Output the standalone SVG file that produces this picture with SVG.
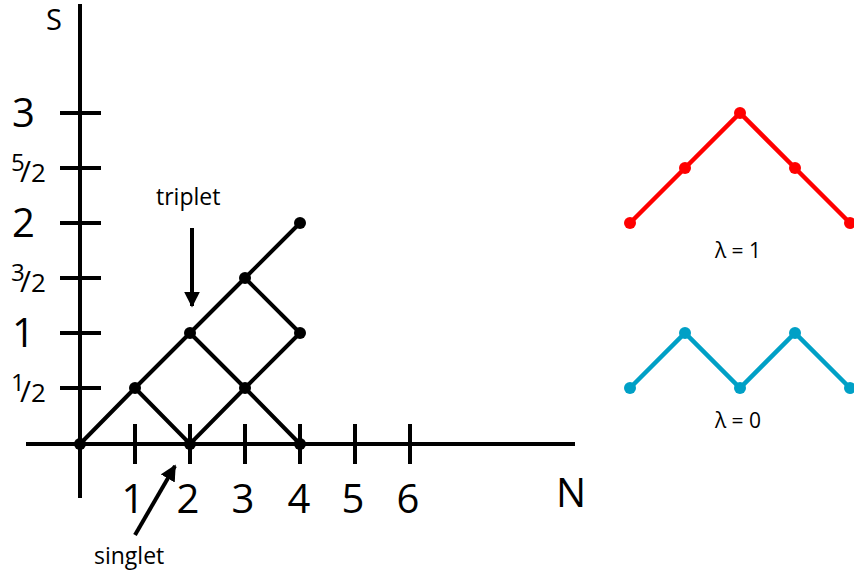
<svg xmlns="http://www.w3.org/2000/svg" width="854" height="581" viewBox="0 0 854 581">
<defs>
<style>
.ax{stroke:#000;stroke-width:4;fill:none}
.ed{stroke:#000;stroke-width:4;fill:none;stroke-linecap:round}
.nd{fill:#000}
.lb{font-family:"Open Sans","Noto Sans","Liberation Sans",sans-serif;fill:#000}
.big{font-size:40px}
.sm{font-size:23px}
.num{font-size:24px}
.sl{font-size:30px}
.den{font-size:26px}
.red{stroke:#ff0000;stroke-width:4.5;fill:none}
.redn{fill:#ff0000}
.blu{stroke:#00a0c6;stroke-width:4.5;fill:none}
.blun{fill:#00a0c6}
</style>
<marker id="ah" viewBox="0 0 10 10" refX="9" refY="5" markerWidth="4" markerHeight="4" orient="auto" markerUnits="strokeWidth">
<path d="M0,0 L10,5 L0,10 Z" fill="#000"/>
</marker>
</defs>
<rect width="854" height="581" fill="#fff"/>
<g id="axes">
<line class="ax" x1="80" y1="4" x2="80" y2="498"/>
<line class="ax" x1="26" y1="444" x2="575" y2="444"/>
<g id="yticks">
<line class="ax" x1="60" y1="113" x2="101" y2="113"/>
<line class="ax" x1="60" y1="168" x2="101" y2="168"/>
<line class="ax" x1="60" y1="223" x2="101" y2="223"/>
<line class="ax" x1="60" y1="278" x2="101" y2="278"/>
<line class="ax" x1="60" y1="333" x2="101" y2="333"/>
<line class="ax" x1="60" y1="388" x2="101" y2="388"/>
</g>
<g id="xticks">
<line class="ax" x1="135" y1="424" x2="135" y2="464"/>
<line class="ax" x1="190" y1="424" x2="190" y2="464"/>
<line class="ax" x1="245" y1="424" x2="245" y2="464"/>
<line class="ax" x1="300" y1="424" x2="300" y2="464"/>
<line class="ax" x1="355" y1="424" x2="355" y2="464"/>
<line class="ax" x1="410" y1="424" x2="410" y2="464"/>
</g>
<text class="lb" x="46" y="30" font-size="29">S</text>
<text class="lb" x="556" y="507" font-size="40">N</text>
<g class="lb big">
<text x="12" y="127">3</text>
<text><tspan class="num" x="11" y="171">5</tspan><tspan class="sl" x="20" y="182">/</tspan><tspan class="den" x="31" y="182">2</tspan></text>
<text x="12" y="237">2</text>
<text><tspan class="num" x="11" y="281">3</tspan><tspan class="sl" x="20" y="292">/</tspan><tspan class="den" x="31" y="292">2</tspan></text>
<text x="12" y="347">1</text>
<text><tspan class="num" x="11" y="391">1</tspan><tspan class="sl" x="20" y="402">/</tspan><tspan class="den" x="31" y="402">2</tspan></text>
</g>
<g class="lb big" text-anchor="middle">
<text x="133" y="513">1</text>
<text x="188" y="513">2</text>
<text x="243" y="513">3</text>
<text x="299" y="513">4</text>
<text x="353" y="513">5</text>
<text x="408" y="513">6</text>
</g>
</g>
<g id="connectors">
<polyline class="ed" points="80,444 135,388 190,333 245,278 300,223"/>
<polyline class="ed" points="135,388 190,444 245,388 300,333"/>
<polyline class="ed" points="190,333 245,388 300,444"/>
<line class="ed" x1="245" y1="278" x2="300" y2="333"/>
<line class="ax" x1="192" y1="228" x2="192" y2="306" marker-end="url(#ah)"/>
<line class="ax" x1="135" y1="535" x2="175" y2="466" marker-end="url(#ah)"/>
</g>
<g id="nodes">
<circle id="n0" class="nd" cx="80" cy="444" r="6"/>
<circle id="n1" class="nd" cx="135" cy="388" r="6"/>
<circle id="n2" class="nd" cx="190" cy="333" r="6"/>
<circle id="n3" class="nd" cx="190" cy="444" r="6"/>
<circle id="n4" class="nd" cx="245" cy="278" r="6"/>
<circle id="n5" class="nd" cx="245" cy="388" r="6"/>
<circle id="n6" class="nd" cx="300" cy="223" r="6"/>
<circle id="n7" class="nd" cx="300" cy="333" r="6"/>
<circle id="n8" class="nd" cx="300" cy="444" r="6"/>
</g>
<text class="lb sm" x="156" y="205">triplet</text>
<text class="lb sm" x="94" y="564">singlet</text>
<g id="lambda1">
<polyline class="red" points="630,223 685,168 740,113 795,168 850,223"/>
<circle class="redn" cx="630" cy="223" r="6"/>
<circle class="redn" cx="685" cy="168" r="6"/>
<circle class="redn" cx="740" cy="113" r="6"/>
<circle class="redn" cx="795" cy="168" r="6"/>
<circle class="redn" cx="850" cy="223" r="6"/>
<text class="lb" font-size="21" x="738" y="258" text-anchor="middle">λ = 1</text>
</g>
<g id="lambda0">
<polyline class="blu" points="630,388 685,333 740,388 795,333 850,388"/>
<circle class="blun" cx="630" cy="388" r="6"/>
<circle class="blun" cx="685" cy="333" r="6"/>
<circle class="blun" cx="740" cy="388" r="6"/>
<circle class="blun" cx="795" cy="333" r="6"/>
<circle class="blun" cx="850" cy="388" r="6"/>
<text class="lb" font-size="21" x="738" y="428" text-anchor="middle">λ = 0</text>
</g>
</svg>
